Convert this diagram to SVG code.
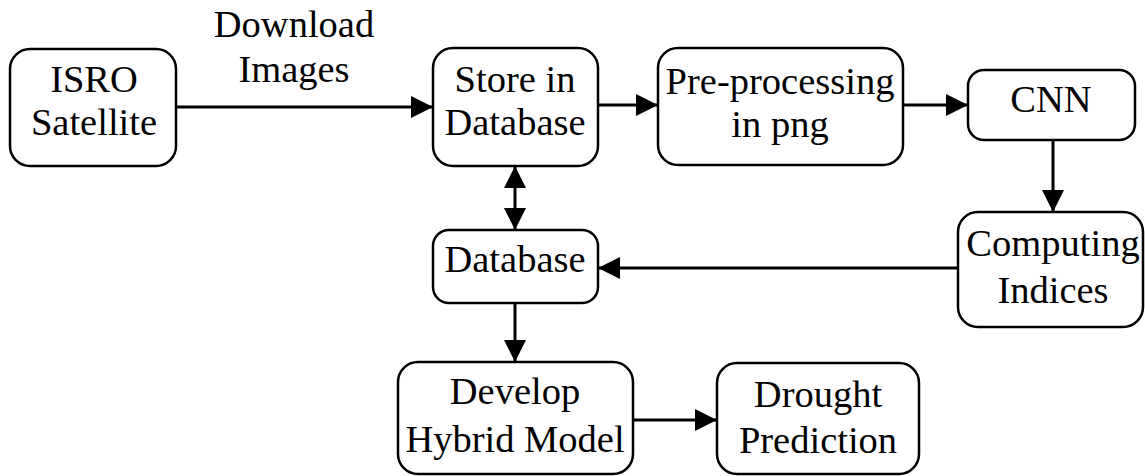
<svg xmlns="http://www.w3.org/2000/svg" width="1145" height="476" viewBox="0 0 1145 476">
  <style>
    .box { fill: #ffffff; stroke: #000000; stroke-width: 2.5; }
    .lbl { font-family: "Liberation Serif", "DejaVu Serif", serif; font-size: 38.5px; fill: #000000; text-anchor: middle; }
    .edge { stroke: #000000; stroke-width: 3; fill: none; marker-end: url(#head); }
  </style>
  <defs>
    <marker id="head" markerUnits="userSpaceOnUse" markerWidth="22" markerHeight="22" refX="22" refY="11" orient="auto-start-reverse">
      <path d="M0,0 L22,11 L0,22 Z" fill="#000000"/>
    </marker>
  </defs>
  <rect width="1145" height="476" fill="#ffffff"/>

  <!-- label on the satellite download link -->
  <text class="lbl" x="294" y="37">Download</text>
  <text class="lbl" x="294" y="82">Images</text>

  <g id="connectors">
    <line class="edge" x1="176" y1="107" x2="433" y2="107"/>
    <line class="edge" x1="598" y1="105" x2="658" y2="105"/>
    <line class="edge" x1="903" y1="105" x2="968" y2="105"/>
    <line class="edge" x1="1053" y1="140" x2="1053" y2="212"/>
    <line class="edge" x1="958" y1="268" x2="598" y2="268"/>
    <line class="edge" x1="515" y1="166" x2="515" y2="230" style="marker-start:url(#head)"/>
    <line class="edge" x1="515" y1="303" x2="515" y2="362"/>
    <line class="edge" x1="633" y1="420" x2="717" y2="420"/>
  </g>

  <g id="isro">
    <rect class="box" x="10" y="49" width="166" height="117" rx="20"/>
    <text class="lbl" x="94" y="92">ISRO</text>
    <text class="lbl" x="94" y="135">Satellite</text>
  </g>
  <g id="store">
    <rect class="box" x="433" y="48" width="165" height="118" rx="20"/>
    <text class="lbl" x="515" y="92">Store in</text>
    <text class="lbl" x="515" y="135">Database</text>
  </g>
  <g id="preprocess">
    <rect class="box" x="658" y="48" width="245" height="117" rx="20"/>
    <text class="lbl" x="780" y="94">Pre-processing</text>
    <text class="lbl" x="780" y="137">in png</text>
  </g>
  <g id="cnn">
    <rect class="box" x="968" y="70" width="167" height="70" rx="16"/>
    <text class="lbl" x="1051" y="112">CNN</text>
  </g>
  <g id="indices">
    <rect class="box" x="958" y="212" width="185" height="115" rx="20"/>
    <text class="lbl" x="1053" y="256">Computing</text>
    <text class="lbl" x="1053" y="303">Indices</text>
  </g>
  <g id="database">
    <rect class="box" x="433" y="230" width="165" height="73" rx="16"/>
    <text class="lbl" x="515" y="272">Database</text>
  </g>
  <g id="hybrid">
    <rect class="box" x="398" y="362" width="235" height="112" rx="20"/>
    <text class="lbl" x="515" y="404">Develop</text>
    <text class="lbl" x="515" y="452">Hybrid Model</text>
  </g>
  <g id="drought">
    <rect class="box" x="717" y="363" width="202" height="111" rx="20"/>
    <text class="lbl" x="818" y="407">Drought</text>
    <text class="lbl" x="818" y="453">Prediction</text>
  </g>
</svg>
